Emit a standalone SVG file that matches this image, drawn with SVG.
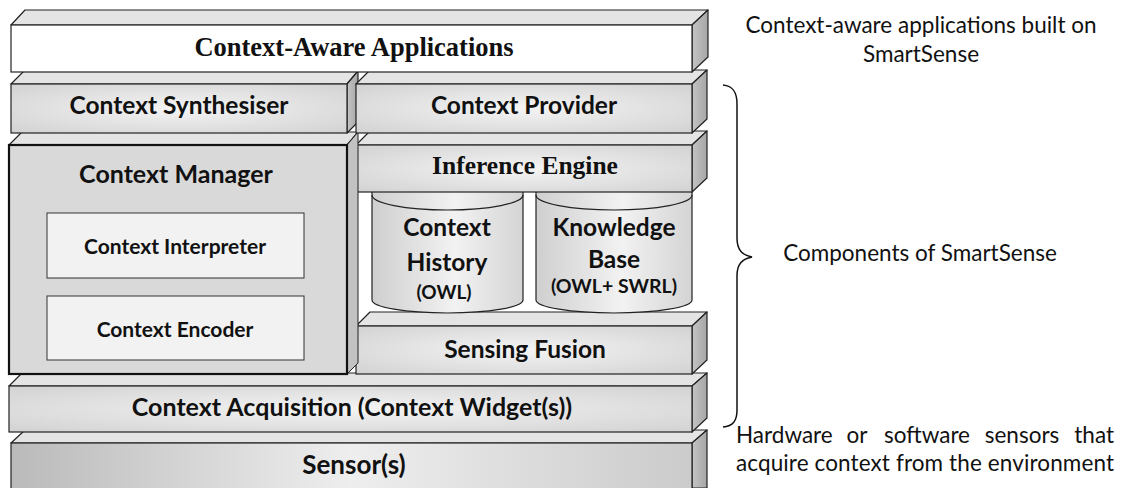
<svg xmlns="http://www.w3.org/2000/svg" width="1121" height="488" viewBox="0 0 1121 488">
<defs>
  <radialGradient id="face" cx="0.5" cy="0.5" r="0.7">
    <stop offset="0" stop-color="#f4f4f4"/>
    <stop offset="1" stop-color="#d2d2d2"/>
  </radialGradient>
  <linearGradient id="side" x1="0" y1="0" x2="1" y2="0">
    <stop offset="0" stop-color="#c4c4c4"/>
    <stop offset="1" stop-color="#a6a6a6"/>
  </linearGradient>
  <linearGradient id="sensor" x1="0" y1="0" x2="1" y2="0">
    <stop offset="0" stop-color="#bababa"/>
    <stop offset="0.5" stop-color="#eeeeee"/>
    <stop offset="1" stop-color="#cbcbcb"/>
  </linearGradient>
  <linearGradient id="cyl" x1="0" y1="0" x2="1" y2="0">
    <stop offset="0" stop-color="#cfcfcf"/>
    <stop offset="0.55" stop-color="#f2f2f2"/>
    <stop offset="1" stop-color="#d4d4d4"/>
  </linearGradient>
  <style>
    .top{fill:#e4e4e4;stroke:#222;stroke-width:1.2;stroke-linejoin:round}
    .side{fill:url(#side);stroke:#222;stroke-width:1.2;stroke-linejoin:round}
    .front{fill:url(#face);stroke:#222;stroke-width:1.2}
    .inner{fill:#f2f2f2;stroke:#333;stroke-width:1}
    .cyl{fill:url(#cyl);stroke:#222;stroke-width:1.2}
    .sans{font-family:Lato,"Open Sans","Liberation Sans",sans-serif;font-weight:bold;fill:#111;text-anchor:middle}
    .serif{font-family:"Liberation Serif","Times New Roman",serif;font-weight:bold;fill:#111;text-anchor:middle}
    .note{font-family:Lato,"Open Sans","Liberation Sans",sans-serif;font-size:22.5px;fill:#111}
  </style>
</defs>
<rect width="1121" height="488" fill="#fff"/>

<g id="sensors">
  <polygon class="top" points="11,443 25,430 707,430 692,443"/>
  <polygon class="side" points="692,443 707,430 707,488 692,488"/>
  <rect x="11" y="443" width="681" height="50" fill="url(#sensor)" stroke="#222" stroke-width="1.2"/>
  <text class="sans" x="354" y="474" font-size="26">Sensor(s)</text>
</g>

<g id="context-acquisition">
  <polygon class="top" points="9,386 22,373 707,373 692,386"/>
  <polygon class="side" points="692,386 707,373 707,418 692,432"/>
  <rect class="front" x="9" y="386" width="683" height="46"/>
  <text class="sans" x="352" y="416" font-size="25">Context Acquisition (Context Widget(s))</text>
</g>

<g id="sensing-fusion">
  <polygon class="top" points="356,326 370,312 707,312 692,326"/>
  <polygon class="side" points="692,326 707,312 707,360 692,374"/>
  <rect class="front" x="356" y="326" width="336" height="48"/>
  <text class="sans" x="525" y="358" font-size="24.5">Sensing Fusion</text>
</g>

<g id="context-history">
  <path class="cyl" d="M372,190 L372,300 A75.5,13 0 0 0 523,300 L523,190 Z"/>
  <path d="M372,195 A75.5,15 0 0 0 523,195" fill="none" stroke="#222" stroke-width="1.2"/>
  <text class="sans" x="447" y="236" font-size="24.5">Context</text>
  <text class="sans" x="447" y="271" font-size="24.5">History</text>
  <text class="sans" x="444" y="299" font-size="19">(OWL)</text>
</g>

<g id="knowledge-base">
  <path class="cyl" d="M536,190 L536,300 A78,13 0 0 0 692,300 L692,190 Z"/>
  <path d="M536,195 A78,15 0 0 0 692,195" fill="none" stroke="#222" stroke-width="1.2"/>
  <text class="sans" x="614" y="236" font-size="24.5">Knowledge</text>
  <text class="sans" x="614" y="268" font-size="24.5">Base</text>
  <text class="sans" x="614" y="293" font-size="19.5">(OWL+ SWRL)</text>
</g>

<g id="inference-engine">
  <polygon class="top" points="356,145 370,131 707,131 692,145"/>
  <polygon class="side" points="692,145 707,131 707,178 692,192"/>
  <rect class="front" x="356" y="145" width="336" height="47"/>
  <text class="serif" x="525" y="174" font-size="25.5">Inference Engine</text>
</g>

<g id="context-manager">
  <polygon class="top" points="9,145 22,132 358,132 347,145"/>
  <polygon points="347,145 358,132 358,363 347,374" fill="#c2c2c2" stroke="#222" stroke-width="1"/>
  <rect x="9" y="145" width="338" height="229" fill="#d9d9d9" stroke="#111" stroke-width="2.2"/>
  <text class="sans" x="176" y="183" font-size="25">Context Manager</text>
  <g id="context-interpreter">
    <rect class="inner" x="47" y="213" width="257" height="65"/>
    <text class="sans" x="175" y="254" font-size="21">Context Interpreter</text>
  </g>
  <g id="context-encoder">
    <rect class="inner" x="47" y="296" width="257" height="64"/>
    <text class="sans" x="175" y="337" font-size="21">Context Encoder</text>
  </g>
</g>

<g id="context-synthesiser">
  <polygon class="top" points="11,84 24,71 358,71 347,84"/>
  <polygon class="side" points="347,84 358,71 358,122 347,133"/>
  <rect class="front" x="11" y="84" width="336" height="49"/>
  <text class="sans" x="179" y="114" font-size="24.5">Context Synthesiser</text>
</g>

<g id="context-provider">
  <polygon class="top" points="356,84 370,70 707,70 692,84"/>
  <polygon class="side" points="692,84 707,70 707,119 692,133"/>
  <rect class="front" x="356" y="84" width="336" height="49"/>
  <text class="sans" x="524" y="114" font-size="24.5">Context Provider</text>
</g>

<g id="context-aware-applications">
  <polygon class="top" points="11,25 25,10 708,10 692,25"/>
  <polygon class="side" points="692,25 708,10 708,57 692,72"/>
  <rect x="11" y="25" width="681" height="47" fill="#fff" stroke="#222" stroke-width="1.2"/>
  <text class="serif" x="354" y="56" font-size="26.5">Context-Aware Applications</text>
</g>

<g id="annotations">
  <path d="M723,85 C733,86 737,92 737,104 L737,238 C737,250 742,255 752,257 C742,259 737,264 737,276 L737,410 C737,421 733,426 723,427" fill="none" stroke="#111" stroke-width="1.5"/>
  <text class="note" x="921" y="33" text-anchor="middle">Context-aware applications built on</text>
  <text class="note" x="921" y="62" text-anchor="middle">SmartSense</text>
  <text class="note" x="920" y="261" text-anchor="middle">Components of SmartSense</text>
  <text class="note" y="443"><tspan x="736">Hardware</tspan></text>
  <text class="note" y="443" text-anchor="middle"><tspan x="857">or</tspan><tspan x="927">software</tspan><tspan x="1022">sensors</tspan></text>
  <text class="note" y="443" x="1114" text-anchor="end">that</text>
  <text class="note" x="736" y="471" textLength="378" lengthAdjust="spacing">acquire context from the environment</text>
</g>
</svg>
